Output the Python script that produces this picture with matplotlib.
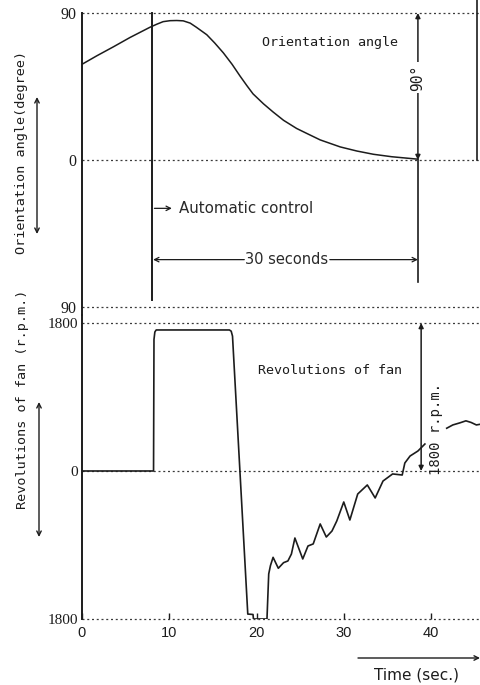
import matplotlib
matplotlib.use('Agg')
import matplotlib.pyplot as plt
import numpy as np
from matplotlib.lines import Line2D

# ---------------- data ----------------
angle_t = [0.0, 1.7, 3.6, 5.5, 7.8, 8.6, 9.3, 10.1, 10.85, 11.6, 12.4, 13.1,
           14.3, 15.2, 16.2, 17.2, 18.1, 18.9, 19.6, 20.8, 21.9, 23.1, 24.6,
           25.75, 27.3, 29.6, 31.5, 33.4, 35.5, 37.9, 38.5]
angle_v = [58.6, 63.8, 69.3, 75.0, 81.3, 83.2, 84.7, 85.3, 85.4, 85.2, 83.8, 81.3,
           76.7, 71.7, 65.6, 58.6, 51.5, 45.5, 40.5, 34.4, 29.4, 24.3, 19.3,
           16.3, 12.3, 8.0, 5.5, 3.5, 2.0, 0.8, 0.5]

fan_t = [0.0, 8.2, 8.25, 8.35, 8.5, 16.9, 17.1, 17.25, 19.0, 19.6, 19.65,
         21.2, 21.4, 21.6, 21.9, 22.5, 23.1, 23.6, 24.0, 24.4, 25.3, 25.9,
         26.5, 27.3, 28.0, 28.65, 29.2, 30.0, 30.7, 31.6, 32.7, 33.6, 34.5,
         35.6, 36.7, 37.0, 37.6, 38.5, 39.3, np.nan,
         41.8, 42.5, 43.3, 44.0, 44.6, 45.2, 45.73]
fan_v = [0, 0, 1600, 1690, 1715, 1715, 1700, 1640, -1740, -1745, -1800,
         -1800, -1252, -1150, -1050, -1183, -1115, -1094, -1010, -815, -1070, -912,
         -887, -644, -803, -730, -608, -377, -596, -280, -170, -328, -122,
         -36, -49, 97, 182, 243, 328, np.nan,
         520, 560, 585, 610, 590, 560, 570]

angle_ticks = [90, 0, -90]
angle_labels = ["90", "0", "90"]
fan_ticks = [1800, 0, -1800]
fan_labels = ["1800", "0", "1800"]
time_ticks = [0, 10, 20, 30, 40]
time_labels = ["0", "10", "20", "30", "40"]

control_start = 8.0
control_end = 38.5

# ---------------- layout ----------------
W, H = 481, 685
fig = plt.figure(figsize=(W / 100, H / 100), dpi=100)
fig.patch.set_facecolor('white')

INK = '#1c1c1c'
DOT = '#3a3a3a'
xl = 82 / W
ax1 = fig.add_axes([xl, 1 - 315 / H, 1 - xl, (315 - 13) / H])
ax2 = fig.add_axes([xl, 1 - 619 / H, 1 - xl, (619 - 315) / H])

XMAX = 45.73
for ax in (ax1, ax2):
    ax.set_xlim(0, XMAX)
    for s in ('top', 'right', 'bottom'):
        ax.spines[s].set_visible(False)
    ax.spines['left'].set_linewidth(1.4)
    ax.spines['left'].set_color(INK)
    ax.set_facecolor('none')

ax1.set_ylim(-94.9, 90)
ax2.set_ylim(-1800, 1897)

dot_style = dict(color=DOT, lw=0.9, linestyle=(0, (1.6, 2.2)), clip_on=False)

# ---------------- top panel ----------------
for v in angle_ticks:
    ax1.axhline(v, **dot_style)
ax1.set_yticks(angle_ticks)
ax1.set_yticklabels(angle_labels, family='Liberation Serif', fontsize=11.5, color=INK)
ax1.tick_params(axis='y', length=0, pad=4)
ax1.set_xticks([])

ax1.plot(angle_t, angle_v, color=INK, lw=1.1)

# control start vertical
ax1.plot([control_start, control_start], [90, -86], color=INK, lw=1.4, clip_on=False)
# 30 s end vertical line
ax1.plot([control_end, control_end], [0, -75], color=INK, lw=1.2)
ax1.annotate('', xy=(control_end, 90), xytext=(control_end, 0),
             arrowprops=dict(arrowstyle='<|-|>', color=INK, lw=1.1,
                             shrinkA=0, shrinkB=0, mutation_scale=7),
             annotation_clip=False)
ax1.text(control_end, 50.5, '90°', rotation=90, ha='center', va='center',
         family='DejaVu Sans Mono', fontsize=10.5, color=INK,
         bbox=dict(facecolor='white', edgecolor='none', pad=1.5))

ax1.text(28.4, 72, 'Orientation angle', ha='center', va='center',
         family='DejaVu Sans Mono', fontsize=9.6, color=INK)

ax1.annotate('', xy=(10.3, -29.6), xytext=(8.3, -29.6),
             arrowprops=dict(arrowstyle='->', color=INK, lw=0.9,
                             shrinkA=0, shrinkB=0, mutation_scale=8))
ax1.text(11.1, -29.6, 'Automatic control', ha='left', va='center',
         family='DejaVu Sans', fontsize=10.8, color='#2a2a2a')

ax1.annotate('', xy=(control_start + 0.15, -61), xytext=(18.6, -61),
             arrowprops=dict(arrowstyle='->', color=INK, lw=0.9,
                             shrinkA=0, shrinkB=0, mutation_scale=8))
ax1.annotate('', xy=(control_end, -61), xytext=(28.4, -61),
             arrowprops=dict(arrowstyle='->', color=INK, lw=0.9,
                             shrinkA=0, shrinkB=0, mutation_scale=8))
ax1.text(23.5, -61, '30 seconds', ha='center', va='center',
         family='DejaVu Sans', fontsize=10.5, color='#2a2a2a')

# ---------------- bottom panel ----------------
for v in fan_ticks:
    ax2.axhline(v, **dot_style)
ax2.set_yticks(fan_ticks)
ax2.set_yticklabels(fan_labels, family='Liberation Serif', fontsize=11, color=INK)
ax2.tick_params(axis='y', length=0, pad=3)
ax2.set_xticks(time_ticks)
ax2.set_xticklabels(time_labels, family='Liberation Sans', fontsize=10.5, color=INK)
ax2.tick_params(axis='x', direction='in', length=4, width=1.0, pad=5, color=INK)

ax2.plot(fan_t, fan_v, color=INK, lw=1.2)

ax2.annotate('', xy=(38.87, 1800), xytext=(38.87, 0),
             arrowprops=dict(arrowstyle='<|-|>', color=INK, lw=1.1,
                             shrinkA=0, shrinkB=0, mutation_scale=7),
             annotation_clip=False)
ax2.text(40.6, 510, '1800 r.p.m.', rotation=90, ha='center', va='center',
         family='DejaVu Sans Mono', fontsize=10, color=INK)
ax2.text(28.4, 1228, 'Revolutions of fan', ha='center', va='center',
         family='DejaVu Sans Mono', fontsize=9.6, color=INK)

# ---------------- figure-level labels ----------------
def fy(y):
    return H - y

fig.text(22 / W, fy(152) / H, 'Orientation angle(degree)', rotation=90,
         ha='center', va='center', family='DejaVu Sans Mono', fontsize=9.7, color=INK)
fig.text(23 / W, fy(399) / H, 'Revolutions of fan (r.p.m.)', rotation=90,
         ha='center', va='center', family='DejaVu Sans Mono', fontsize=9.7, color=INK)

fig_ax = fig.add_axes([0, 0, 1, 1], facecolor='none')
fig_ax.set_xlim(0, W)
fig_ax.set_ylim(H, 0)
fig_ax.axis('off')
fig_ax.annotate('', xy=(37, 97), xytext=(37, 234),
                arrowprops=dict(arrowstyle='<->', color=INK, lw=1.0,
                                shrinkA=0, shrinkB=0, mutation_scale=8))
fig_ax.annotate('', xy=(39, 402), xytext=(39, 537),
                arrowprops=dict(arrowstyle='<->', color=INK, lw=1.0,
                                shrinkA=0, shrinkB=0, mutation_scale=8))
fig_ax.annotate('', xy=(480, 658), xytext=(358, 658),
                arrowprops=dict(arrowstyle='->', color=INK, lw=1.0,
                                shrinkA=0, shrinkB=0, mutation_scale=8))
fig_ax.text(417, 675, 'Time (sec.)', ha='center', va='center',
            family='DejaVu Sans', fontsize=11, color=INK)
fig_ax.add_line(Line2D([477.5, 477.5], [0, 160], color=INK, lw=1.2))

fig.savefig('out.png', dpi=100, facecolor='white')
